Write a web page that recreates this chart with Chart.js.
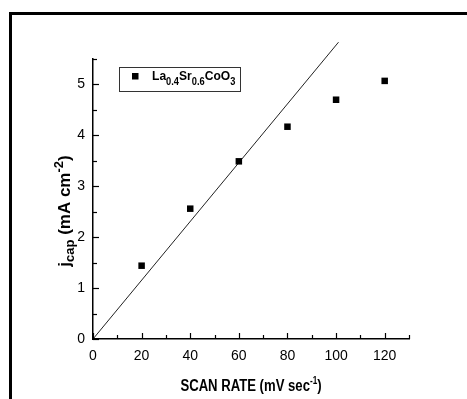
<!DOCTYPE html>
<html>
<head>
<meta charset="utf-8">
<script src="https://cdn.jsdelivr.net/npm/chart.js@4/dist/chart.umd.min.js"></script>
<style>
  html, body { margin: 0; padding: 0; background: #fff; overflow: hidden; }
  canvas { display: block; }
</style>
</head>
<body>
<canvas id="chartCap" width="467" height="399"></canvas>
<script>
// measured points
const scanRate = [20, 40, 60, 80, 100, 120];
const jCap = [1.44, 2.56, 3.49, 4.17, 4.70, 5.07];
// straight line through the origin
const fitX = [0, 101];
const fitY = [0, 5.83];
// labelled (major) ticks
const xTickLabels = [0, 20, 40, 60, 80, 100, 120];
const yTickLabels = [0, 1, 2, 3, 4, 5];

const SANS = "'Liberation Sans', Arial, sans-serif";

let chartCap;

const toPoints = (xs, ys) => xs.map((x, i) => ({ x, y: ys[i] }));
const isMajor = (list, v) => list.some(m => Math.abs(m - v) < 1e-6);

// text run with sub/superscripts, x = start (align left) or centre
const drawRich = (ctx, parts, x, y, centre) => {
    const widths = parts.map(p => { ctx.font = p.font; return ctx.measureText(p.text).width; });
    if (centre) x -= widths.reduce((a, b) => a + b, 0) / 2;
    ctx.textAlign = 'left';
    ctx.textBaseline = 'alphabetic';
    parts.forEach((p, i) => {
        ctx.font = p.font;
        ctx.fillText(p.text, x, y + (p.dy || 0));
        x += widths[i];
    });
};

const decor = {
    id: 'decor',
    beforeDraw: (chart) => {
        const ctx = chart.ctx;
        ctx.save();
        ctx.fillStyle = '#fff';
        ctx.fillRect(0, 0, chart.width, chart.height);
        // outer frame (cut off at right / bottom)
        ctx.strokeStyle = '#000';
        ctx.lineWidth = 3;
        ctx.strokeRect(10.5, 13.5, chart.width + 20, chart.height + 20);
        ctx.restore();
    },
    afterDraw: (chart) => {
        const ctx = chart.ctx;
        const area = chart.chartArea;
        const xs = chart.scales.x, ys = chart.scales.y;
        ctx.save();
        ctx.strokeStyle = '#000';
        ctx.fillStyle = '#000';
        ctx.lineWidth = 1.2;

        // inward tick marks, major longer than minor
        xs.ticks.forEach(t => {
            const px = Math.round(xs.getPixelForValue(t.value)) + 0.5;
            const len = isMajor(xTickLabels, t.value) ? 6 : 4;
            ctx.beginPath();
            ctx.moveTo(px, area.bottom);
            ctx.lineTo(px, area.bottom - len);
            ctx.stroke();
        });
        ys.ticks.forEach(t => {
            const py = Math.round(ys.getPixelForValue(t.value)) + 0.5;
            const len = isMajor(yTickLabels, t.value) ? 6 : 4;
            ctx.beginPath();
            ctx.moveTo(area.left, py);
            ctx.lineTo(area.left + len, py);
            ctx.stroke();
        });

        // x axis title, squeezed like the original
        ctx.save();
        ctx.translate((area.left + area.right) / 2, 391);
        ctx.scale(0.82, 1);
        drawRich(ctx, [
            { text: 'SCAN RATE (mV sec', font: 'bold 16px ' + SANS },
            { text: '-1', font: 'bold 10px ' + SANS, dy: -7 },
            { text: ')', font: 'bold 16px ' + SANS }
        ], 0, 0, true);
        ctx.restore();

        // y axis title, rotated
        ctx.save();
        ctx.translate(70, 211);
        ctx.rotate(-Math.PI / 2);
        drawRich(ctx, [
            { text: 'j', font: 'bold 17px ' + SANS },
            { text: 'cap', font: 'bold 13px ' + SANS, dy: 4 },
            { text: ' (mA cm', font: 'bold 17px ' + SANS },
            { text: '-2', font: 'bold 13px ' + SANS, dy: -7 },
            { text: ')', font: 'bold 17px ' + SANS }
        ], 0, 0, true);
        ctx.restore();

        // legend box
        const lx = area.left + 26, ly = area.top + 8;
        ctx.lineWidth = 1;
        ctx.strokeStyle = '#333';
        ctx.strokeRect(lx + 0.5, ly + 0.5, 121, 24);
        ctx.fillRect(lx + 13, ly + 6, 6.5, 6.5);
        ctx.save();
        ctx.translate(lx + 33, ly + 13);
        ctx.scale(0.93, 1);
        drawRich(ctx, [
            { text: 'La', font: 'bold 13px ' + SANS },
            { text: '0.4', font: 'bold 10px ' + SANS, dy: 5 },
            { text: 'Sr', font: 'bold 13px ' + SANS },
            { text: '0.6', font: 'bold 10px ' + SANS, dy: 5 },
            { text: 'CoO', font: 'bold 13px ' + SANS },
            { text: '3', font: 'bold 10px ' + SANS, dy: 5 }
        ], 0, 0, false);
        ctx.restore();
        ctx.restore();
    }
};

const initChartCap = () => {
    const ctx = document.getElementById('chartCap').getContext('2d');
    chartCap = new Chart(ctx, {
        type: 'scatter',
        data: {
            datasets: [
                {
                    label: 'La0.4Sr0.6CoO3',
                    data: toPoints(scanRate, jCap),
                    pointStyle: 'rect',
                    pointRadius: 4.6,
                    backgroundColor: '#000',
                    borderWidth: 0
                },
                {
                    label: 'fit',
                    data: toPoints(fitX, fitY),
                    showLine: true,
                    borderColor: '#222',
                    borderWidth: 1,
                    pointRadius: 0,
                    clip: false
                }
            ]
        },
        options: {
            responsive: false,
            animation: false,
            layout: { padding: { left: 0, top: 59, right: 58, bottom: 0 } },
            plugins: { legend: { display: false }, tooltip: { enabled: false } },
            scales: {
                x: {
                    type: 'linear',
                    min: 0,
                    max: 130,
                    ticks: {
                        stepSize: 10,
                        autoSkip: false,
                        maxRotation: 0,
                        padding: 9,
                        color: '#000',
                        font: { family: SANS, size: 14 },
                        callback: (v) => isMajor(xTickLabels, v) ? String(v) : ''
                    },
                    grid: { display: false, drawTicks: false },
                    border: { color: '#000', width: 1.5 },
                    afterFit: (s) => { s.height = 60; }
                },
                y: {
                    min: 0,
                    max: 5.5,
                    ticks: {
                        stepSize: 0.5,
                        autoSkip: false,
                        padding: 8,
                        color: '#000',
                        font: { family: SANS, size: 14 },
                        callback: (v) => isMajor(yTickLabels, v) ? String(Math.round(v)) : ''
                    },
                    grid: { display: false, drawTicks: false },
                    border: { color: '#000', width: 1.5 },
                    afterFit: (s) => { s.width = 93; }
                }
            }
        },
        plugins: [decor]
    });
};

initChartCap();
</script>
</body>
</html>
